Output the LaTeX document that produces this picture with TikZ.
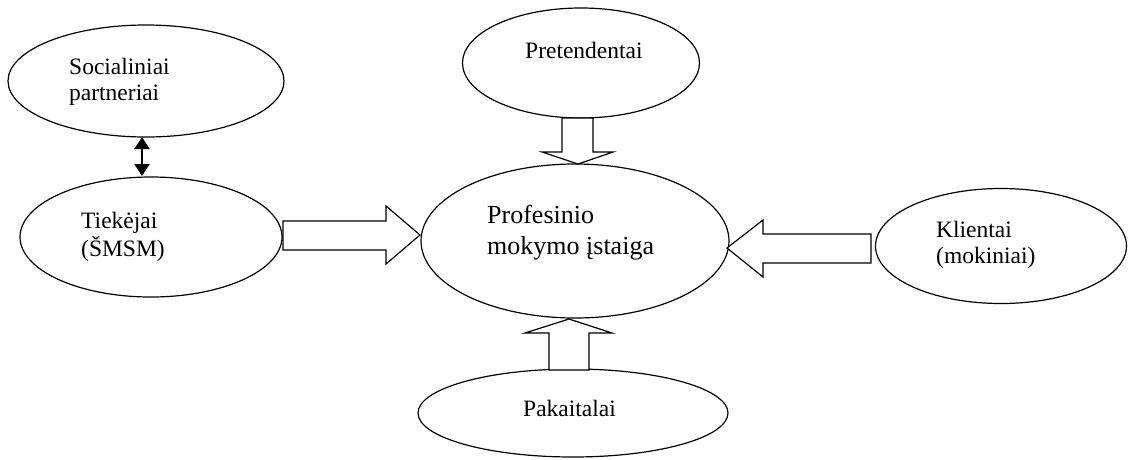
\documentclass[tikz,border=0pt]{standalone}
\usepackage{fontspec}
\setmainfont{Liberation Serif}
\usetikzlibrary{shapes.geometric,arrows.meta}
\begin{document}
\begin{tikzpicture}[x=1pt,y=-1pt,
  ell/.style={draw,ellipse,line width=1.2pt,inner sep=0pt},
  lbl/.style={anchor=base west,inner sep=0pt,font=\fontsize{23.5}{27}\selectfont},
  biglbl/.style={anchor=base west,inner sep=0pt,font=\fontsize{26}{31}\selectfont},
  blockarrow/.style={draw,line width=1.2pt,fill=white,line join=miter},
  dblarrow/.style={line width=2pt,{Triangle[width=15pt,length=12pt]}-{Triangle[width=15pt,length=12pt]}}]
\useasboundingbox (0,0) rectangle (1130,459);
% ellipses
\node[ell,minimum width=276pt,minimum height=112pt] (soc) at (146,81) {};
\node[ell,minimum width=262pt,minimum height=120pt] (tiek) at (151,237) {};
\node[ell,minimum width=237pt,minimum height=110pt] (pret) at (581,63) {};
\node[ell,minimum width=308pt,minimum height=154pt] (main) at (575,241) {};
\node[ell,minimum width=251pt,minimum height=115pt] (klient) at (1001,246) {};
\node[ell,minimum width=310pt,minimum height=88pt] (pak) at (573,413) {};
% labels
\node[lbl] (socA) at (69,74) {Socialiniai};
\node[lbl] (socB) at (69,100) {partneriai};
\node[lbl] (tiekA) at (81,228) {Tiekėjai};
\node[lbl] (tiekB) at (81,256) {(ŠMSM)};
\node[lbl] (pretA) at (525,58) {Pretendentai};
\node[biglbl] (mainA) at (487,223) {Profesinio};
\node[biglbl] (mainB) at (487,254) {mokymo įstaiga};
\node[lbl] (klA) at (936,237) {Klientai};
\node[lbl] (klB) at (936,263) {(mokiniai)};
\node[lbl] (pakA) at (523,416) {Pakaitalai};
% double arrow between Socialiniai partneriai and Tiekejai
\coordinate (d1) at (142,137);
\coordinate (d2) at (142,176);
\draw[dblarrow] (d1) -- (d2);
% block arrows
\draw[blockarrow] (562,118) -- (593,118) -- (593,152) -- (613,152) -- (578,164)
  -- (542,152) -- (562,152) -- cycle;
\draw[blockarrow] (283,221) -- (386,221) -- (386,206) -- (420,235) -- (386,264)
  -- (386,250) -- (283,250) -- cycle;
\draw[blockarrow] (871,234) -- (763,234) -- (763,220) -- (727,248) -- (763,277)
  -- (763,263) -- (871,263) -- cycle;
\draw[blockarrow] (549,370) -- (549,333) -- (525,333) -- (569,319) -- (612,333)
  -- (589,333) -- (589,370) -- cycle;
\end{tikzpicture}
\end{document}
